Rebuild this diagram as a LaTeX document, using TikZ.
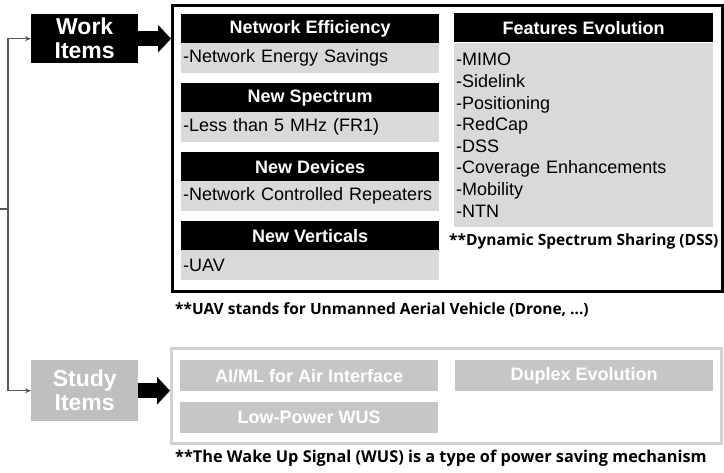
\documentclass[tikz,border=0pt]{standalone}
\usepackage{fontspec}
\setmainfont{Liberation Sans}
\newfontfamily\notefont{Open Sans}
\usetikzlibrary{positioning, arrows.meta}

\begin{document}
\begin{tikzpicture}[
  x=1pt, y=-1pt,
  font=\fontsize{18}{21.6}\selectfont,
  groupbox/.style={minimum width=107pt, minimum height=49pt, inner sep=0pt, anchor=north west, align=center, text=white, font=\fontsize{23}{24}\selectfont\bfseries},
  headbox/.style={fill=black, text=white, minimum width=258pt, minimum height=29pt, inner sep=0pt, anchor=north west, font=\fontsize{18}{20}\selectfont\bfseries},
  itembox/.style={fill=gray!30, minimum height=30pt, text width=254pt, inner xsep=2pt, inner ysep=0pt, align=left, anchor=north west},
  studybox/.style={fill=gray!45, text=white, minimum width=258pt, minimum height=31pt, inner sep=0pt, anchor=north west, font=\fontsize{18}{20}\selectfont\bfseries},
  outerbox/.style={line width=3pt, minimum width=550pt, inner sep=0pt, anchor=north west},
  notetext/.style={anchor=west, inner sep=0pt, font=\notefont\bfseries\fontsize{15.5}{18}\selectfont},
  wire/.style={draw=black!65, line width=1.2pt},
  link/.style={wire, -{Stealth[length=6pt, width=5pt]}},
  bigarrow/.style={line width=15pt, -{Triangle[length=13pt, width=27pt]}}
]
\useasboundingbox (0,0) rectangle (724,472);

% --- 1. Work Items ---
\node[groupbox, fill=black] (work) at (31,14) {Work\\Items};
\node[outerbox, draw=black, minimum height=286pt] (wframe) at (171,4) {};
\draw[bigarrow] (work.east) -- (work.east -| wframe.west);

\node[headbox] (effhead) at (181,14) {Network Efficiency};
\node[itembox] (effbody) at (181,43) {-Network Energy Savings};
\node[headbox] (spechead) at (181,83) {New Spectrum};
\node[itembox] (specbody) at (181,112) {-Less than 5 MHz (FR1)};
\node[headbox] (devhead) at (181,152) {New Devices};
\node[itembox] (devbody) at (181,181) {-Network Controlled Repeaters};
\node[headbox] (verthead) at (181,221) {New Verticals};
\node[itembox] (vertbody) at (181,250) {-UAV};

\node[headbox, minimum width=259pt] (feathead) at (454,13) {Features Evolution};
\node[itembox, text width=255pt, minimum height=184pt] (featbody) at (454,43)
  {-MIMO\\-Sidelink\\-Positioning\\-RedCap\\-DSS\\-Coverage Enhancements\\-Mobility\\-NTN};

\node[notetext] (dssnote) at (449,241) {**Dynamic Spectrum Sharing (DSS)};
\node[notetext] (uavnote) at (175,310) {**UAV stands for Unmanned Aerial Vehicle (Drone, ...)};

% --- 2. Study Items ---
\node[groupbox, fill=gray!50, minimum height=61pt] (study) at (31,360) {Study\\Items};
\node[outerbox, draw=gray!35, minimum height=95pt] (sframe) at (170,347) {};
\draw[bigarrow] (study.east) -- (study.east -| sframe.west);

\node[studybox] (aiml) at (180,360) {AI/ML for Air Interface};
\node[studybox] (duplex) at (455,360) {Duplex Evolution};
\node[studybox] (wus) at (180,402) {Low-Power WUS};

\node[notetext, font=\notefont\bfseries\fontsize{16.3}{19}\selectfont] (wusnote) at (175,458) {**The Wake Up Signal (WUS) is a type of power saving mechanism};

% --- 3. Left bracket ---
\coordinate (src) at (0,209);
\coordinate (split) at (8,209);
\draw[wire] (src) -- (split);
\draw[link] (split) |- (work.west);
\draw[link] (split) |- (study.west);

\end{tikzpicture}
\end{document}
